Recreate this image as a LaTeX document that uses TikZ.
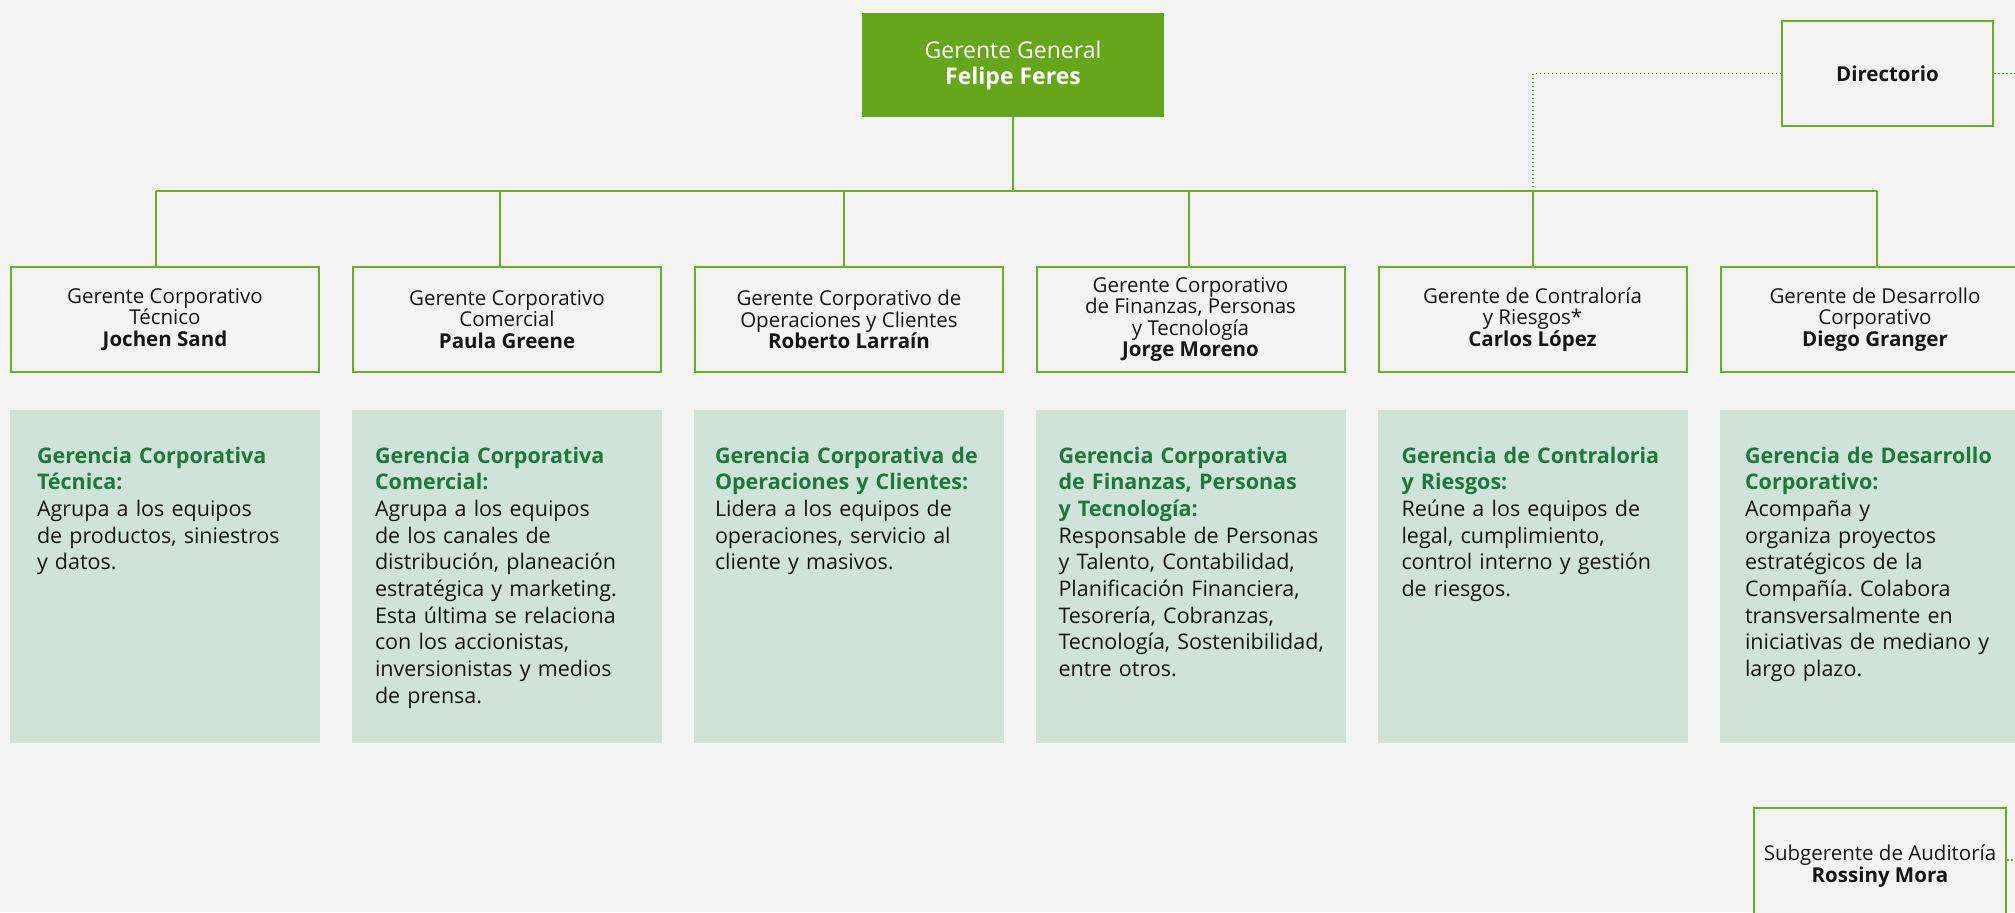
\documentclass[tikz,border=0pt]{standalone}
\usepackage{fontspec}
\setmainfont{Open Sans}
\usetikzlibrary{calc}
\frenchspacing
\definecolor{bg}{HTML}{F3F3F3}
\definecolor{ggreen}{HTML}{66A61A}
\definecolor{lgreen}{HTML}{6AAE25}
\definecolor{dfill}{HTML}{CFE3D8}
\definecolor{hgreen}{HTML}{1B7A3B}
\definecolor{txt}{HTML}{151515}
\newcommand\hdg[1]{{\color{hgreen}\bfseries #1}}
\newcommand\fl{\rule{0pt}{9pt}}
\tikzset{
  conn/.style={draw=lgreen, line width=1pt},
  dotline/.style={draw=lgreen, line width=0.75pt, dash pattern=on 0.75pt off 1.25pt},
  ggbox/.style={rectangle, fill=ggreen, text=white, minimum width=151pt, minimum height=52pt, align=center, inner sep=0pt, font=\fontsize{11.5}{13}\selectfont},
  mgrbox/.style={rectangle, draw=lgreen, line width=1pt, fill=bg, text=txt, minimum width=154pt, minimum height=52.5pt, align=center, inner sep=0pt, font=\fontsize{10.25}{10.7}\selectfont},
  topbox/.style={mgrbox, minimum width=105pt},
  descbox/.style={rectangle, fill=dfill, minimum width=155pt, minimum height=166.5pt, inner sep=0pt},
  desctext/.style={anchor=north west, text width=150pt, align=left, inner sep=0pt, text=txt, font=\fontsize{10.75}{13.35}\selectfont},
}
\begin{document}
\begin{tikzpicture}[x=0.5pt, y=-0.5pt]
\fill[bg] (0,0) rectangle (2015,912);
\useasboundingbox (0,0) rectangle (2015,912);

% top
\node[ggbox] (gg) at (1013,64.5) {\rule{0pt}{10pt}Gerente General\\\textbf{Felipe Feres}};
\node[topbox, minimum width=105.5pt] (dir) at (1887.5,73.5) {\textbf{Directorio}};

% managers
\node[mgrbox] (m1) at (165,319.5) {Gerente Corporativo\\Técnico\\\textbf{Jochen Sand}};
\node[mgrbox] (m2) at (507,319.5) {Gerente Corporativo\\Comercial\\\textbf{Paula Greene}};
\node[mgrbox] (m3) at (849,319.5) {Gerente Corporativo de\\Operaciones y Clientes\\\textbf{Roberto Larraín}};
\node[mgrbox] (m4) at (1190.5,319.5) {Gerente Corporativo\\de Finanzas, Personas\\y Tecnología\\\textbf{Jorge Moreno}};
\node[mgrbox] (m5) at (1532.5,319.5) {Gerente de Contraloría\\y Riesgos*\\\textbf{Carlos López}};
\node[mgrbox] (m6) at (1875,319.5) {Gerente de Desarrollo\\Corporativo\\\textbf{Diego Granger}};

% bus coordinates
\coordinate (b1) at (155.5,191);
\coordinate (b2) at (500,191);
\coordinate (b3) at (844,191);
\coordinate (b4) at (1189,191);
\coordinate (b5) at (1533,191);
\coordinate (b6) at (1877,191);

\draw[conn] (b1) -- (b6);
\draw[conn] (gg.south) -- (gg.south |- b1);
\foreach \i in {1,...,6} { \draw[conn] (b\i) -- (b\i |- m\i.north); }

% Directorio dotted links
\coordinate (dirend) at (2015,73.5);
\draw[dotline] (dir.west) -| (b5);
\draw[dotline] (dir.east) -- (dirend);

% description boxes
\node[descbox] (d1) at (165,576.5) {};
\node[descbox] (d2) at (507,576.5) {};
\node[descbox] (d3) at (849,576.5) {};
\node[descbox] (d4) at (1190.5,576.5) {};
\node[descbox] (d5) at (1532.5,576.5) {};
\node[descbox] (d6) at (1875,576.5) {};

\node[desctext] (t1) at ($(d1.north west)+(27,35)$) {\fl\hdg{Gerencia Corporativa}\\\hdg{Técnica:}\\Agrupa a los equipos\\de productos, siniestros\\y datos.};
\node[desctext] (t2) at ($(d2.north west)+(23,35)$) {\fl\hdg{Gerencia Corporativa}\\\hdg{Comercial:}\\Agrupa a los equipos\\de los canales de\\distribución, planeación\\estratégica y marketing.\\Esta última se relaciona\\con los accionistas,\\inversionistas y medios\\de prensa.};
\node[desctext] (t3) at ($(d3.north west)+(21,35)$) {\fl\hdg{Gerencia Corporativa de}\\\hdg{Operaciones y Clientes:}\\Lidera a los equipos de\\operaciones, servicio al\\cliente y masivos.};
\node[desctext] (t4) at ($(d4.north west)+(23,35)$) {\fl\hdg{Gerencia Corporativa}\\\hdg{de Finanzas, Personas}\\\hdg{y Tecnología:}\\Responsable de Personas\\y Talento, Contabilidad,\\Planificación Financiera,\\Tesorería, Cobranzas,\\Tecnología, Sostenibilidad,\\entre otros.};
\node[desctext] (t5) at ($(d5.north west)+(24,35)$) {\fl\hdg{Gerencia de Contraloria}\\\hdg{y Riesgos:}\\Reúne a los equipos de\\legal, cumplimiento,\\control interno y gestión\\de riesgos.};
\node[desctext] (t6) at ($(d6.north west)+(25,35)$) {\fl\hdg{Gerencia de Desarrollo}\\\hdg{Corporativo:}\\Acompaña y\\organiza proyectos\\estratégicos de la\\Compañía. Colabora\\transversalmente en\\iniciativas de mediano y\\largo plazo.};

% Subgerente
\node[topbox, minimum width=126pt, minimum height=58pt] (sub) at (1880,866) {Subgerente de Auditoría\\\textbf{Rossiny Mora}};
\coordinate (subend) at (2015,860);
\draw[dotline] (sub.east |- subend) -- (subend);
\end{tikzpicture}
\end{document}
